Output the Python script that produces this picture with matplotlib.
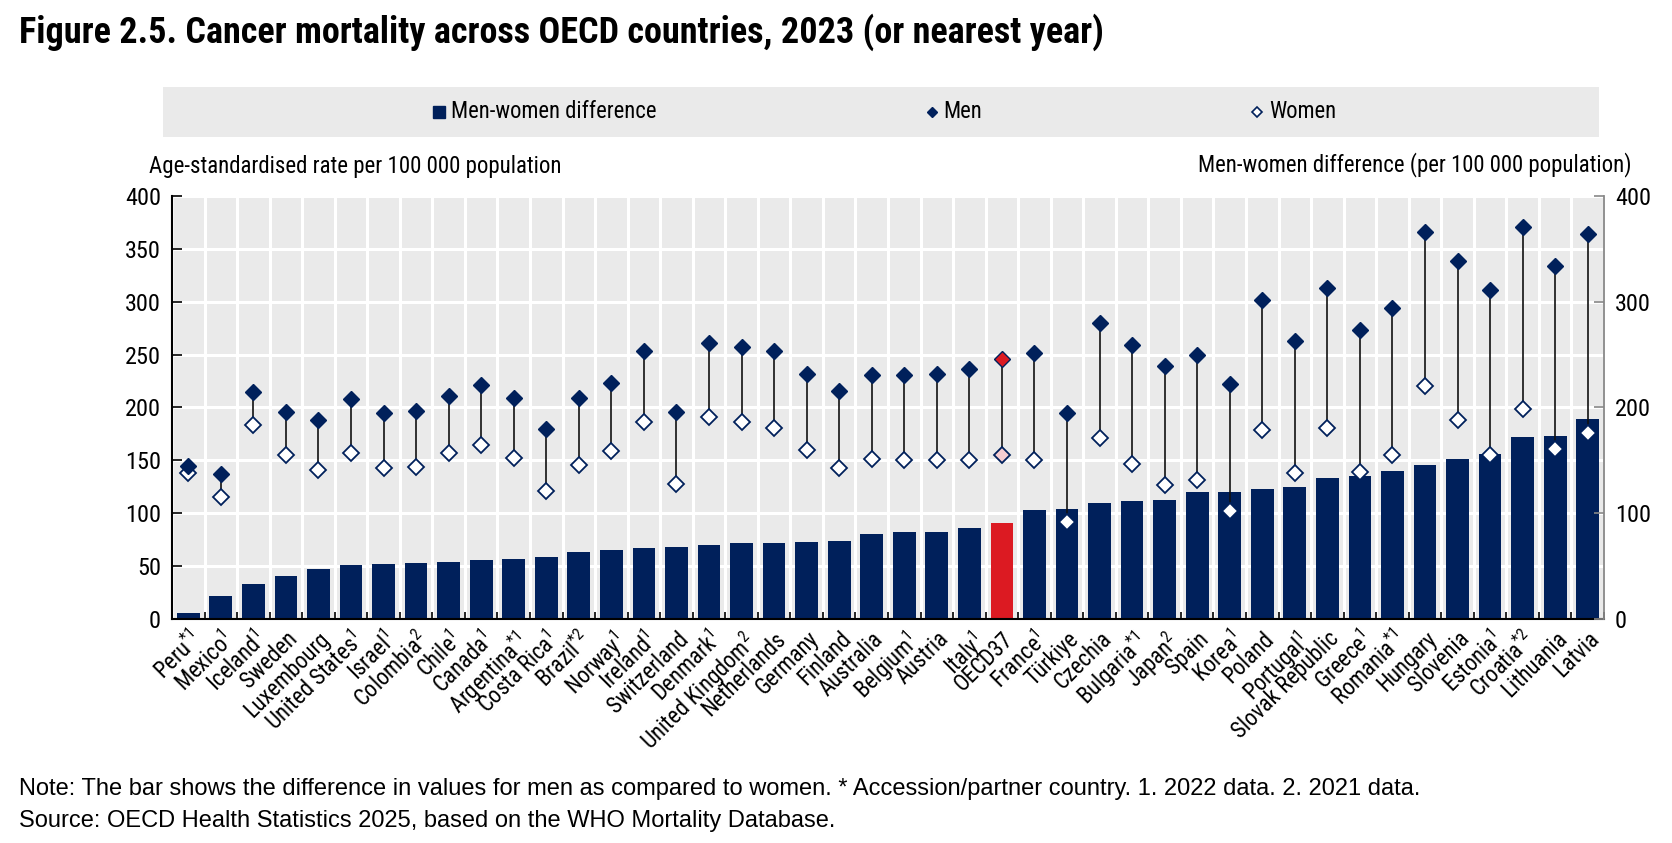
import matplotlib
matplotlib.use("Agg")
import matplotlib.pyplot as plt
from matplotlib import font_manager as fm
from matplotlib.lines import Line2D
from matplotlib.patches import Rectangle
import numpy as np

# ---------------- data ----------------
countries = ["Peru", "Mexico", "Iceland", "Sweden", "Luxembourg", "United States", "Israel",
             "Colombia", "Chile", "Canada", "Argentina", "Costa Rica", "Brazil", "Norway",
             "Ireland", "Switzerland", "Denmark", "United Kingdom", "Netherlands", "Germany",
             "Finland", "Australia", "Belgium", "Austria", "Italy", "OECD37", "France",
             "Türkiye", "Czechia", "Bulgaria", "Japan", "Spain", "Korea", "Poland", "Portugal",
             "Slovak Republic", "Greece", "Romania", "Hungary", "Slovenia", "Estonia",
             "Croatia", "Lithuania", "Latvia"]
notes = ["*1", "1", "1", "", "", "1", "1", "2", "1", "1", "*1", "1", "*2", "1",
         "1", "", "1", "2", "", "", "", "", "1", "", "1", "", "1",
         "", "", "*1", "2", "", "1", "", "1", "", "1", "*1", "", "", "1",
         "*2", "", ""]
men = [145, 137, 215, 196, 188, 208, 195, 197, 211, 221, 209, 180, 209, 223,
       253, 196, 261, 257, 253, 232, 216, 231, 231, 232, 236, 246, 252,
       195, 280, 259, 239, 250, 222, 302, 263, 313, 273, 294, 366, 339, 311,
       371, 334, 364]
women = [138, 115, 183, 155, 141, 157, 143, 144, 157, 165, 152, 121, 146, 159,
         186, 128, 191, 186, 181, 160, 143, 151, 150, 150, 150, 155, 150,
         92, 171, 147, 127, 131, 102, 179, 138, 181, 139, 155, 220, 188, 155,
         199, 161, 176]
difference = [6, 22, 33, 41, 47, 51, 52, 53, 54, 56, 57, 59, 63, 65,
              67, 68, 70, 72, 72, 73, 74, 80, 82, 82, 86, 91, 103,
              104, 110, 112, 113, 120, 120, 123, 125, 133, 135, 140, 146, 151, 156,
              172, 173, 189]
highlight = "OECD37"

title = "Figure 2.5. Cancer mortality across OECD countries, 2023 (or nearest year)"
left_label = "Age-standardised rate per 100 000 population"
right_label = "Men-women difference (per 100 000 population)"
legend_labels = ["Men-women difference", "Men", "Women"]
note_text = ("Note: The bar shows the difference in values for men as compared to women. "
             "* Accession/partner country. 1. 2022 data. 2. 2021 data.")
source_text = "Source: OECD Health Statistics 2025, based on the WHO Mortality Database."
yticks = [0, 50, 100, 150, 200, 250, 300, 350, 400]
yticks_right = [0, 100, 200, 300, 400]

# ---------------- fonts ----------------
names = {f.name for f in fm.fontManager.ttflist}
narrow = next((n for n in ["Liberation Sans Narrow", "Arial Narrow", "Roboto Condensed",
                           "Open Sans Condensed"] if n in names), "Liberation Sans")
regular = "Liberation Sans" if "Liberation Sans" in names else "DejaVu Sans"
plt.rcParams["font.family"] = [narrow, "DejaVu Sans"]
plt.rcParams["mathtext.fontset"] = "custom"
plt.rcParams["mathtext.rm"] = narrow
plt.rcParams["mathtext.it"] = narrow

NAVY = "#00205B"
RED = "#DC1A22"
PINK = "#F7CDD1"
BG = "#EAEAEA"

W, H = 1672, 843
fig = plt.figure(figsize=(W / 100, H / 100), dpi=100)
L, R, T, B = 172, 1604, 196, 619
ax = fig.add_axes([L / W, 1 - B / H, (R - L) / W, (B - T) / H])
ax.set_facecolor(BG)

x = np.arange(len(countries))
bar_colors = [RED if c == highlight else NAVY for c in countries]
ax.bar(x, difference, width=0.7, color=bar_colors, zorder=2)
ax.vlines(x, women, men, color="#111111", lw=1.2, zorder=3)
for i, c in enumerate(countries):
    hl = c == highlight
    ax.plot(x[i], men[i], marker="D", ms=8.5, mfc=RED if hl else NAVY, mec=NAVY,
            mew=1.0, ls="none", zorder=5)
    ax.plot(x[i], women[i], marker="D", ms=8.2, mfc=PINK if hl else "white", mec=NAVY,
            mew=1.3, ls="none", zorder=4)

ax.set_xlim(-0.5, len(countries) - 0.5)
ax.set_ylim(0, 400)
ax.set_yticks(yticks)
ax.set_xticks(x)
labels = [c + (r"$^{\mathrm{" + n + "}}$" if n else "") for c, n in zip(countries, notes)]
ax.set_xticklabels(labels, rotation=45, ha="right", va="top", rotation_mode="anchor",
                   fontsize=16.3)
ax.set_xticks(np.arange(-0.5, len(countries), 1.0), minor=True)
ax.tick_params(axis="x", which="major", length=0, pad=6)
ax.tick_params(axis="x", which="minor", length=5, width=1.2, direction="in", color="black")
ax.tick_params(axis="y", length=7, width=1.2, direction="in", labelsize=17.5, pad=8)
ax.grid(which="minor", axis="x", color="white", lw=2.2, zorder=1)
ax.grid(which="major", axis="y", color="white", lw=2.2, zorder=1)
ax.set_axisbelow(True)
for s in ["top", "right"]:
    ax.spines[s].set_visible(False)
ax.spines["left"].set_linewidth(1.5)
ax.spines["bottom"].set_linewidth(1.5)

ax2 = ax.twinx()
ax2.set_ylim(0, 400)
ax2.set_yticks(yticks_right)
ax2.tick_params(axis="y", length=7, width=1.2, direction="in", labelsize=17.5, pad=8,
                color="#888888")
for s in ["top", "left", "bottom"]:
    ax2.spines[s].set_visible(False)
ax2.spines["right"].set_color("#888888")
ax2.spines["right"].set_linewidth(1.3)

# ---------------- texts ----------------
fig.text(19 / W, 1 - 32 / H, title, fontsize=26, fontweight="bold", va="center", ha="left")
fig.text(149 / W, 1 - 167 / H, left_label, fontsize=16.5, va="center", ha="left")
fig.text(1631 / W, 1 - 165 / H, right_label, fontsize=16.4, va="center", ha="right")
fig.text(19 / W, 1 - 789 / H, note_text, fontsize=17, va="center", ha="left",
         family=regular)
fig.text(19 / W, 1 - 821 / H, source_text, fontsize=17, va="center", ha="left",
         family=regular)

# ---------------- legend ----------------
fig.add_artist(Rectangle((163 / W, 1 - 137 / H), (1599 - 163) / W, 50 / H,
                         transform=fig.transFigure, facecolor=BG, edgecolor="none"))
ly = 1 - 112 / H
fig.add_artist(Line2D([439 / W], [ly], marker="s", ms=8, mfc=NAVY, mec=NAVY, ls="none",
                      transform=fig.transFigure))
fig.text(451 / W, ly, legend_labels[0], fontsize=16.3, va="center", ha="left")
fig.add_artist(Line2D([932 / W], [ly], marker="D", ms=5.2, mfc=NAVY, mec=NAVY, ls="none",
                      transform=fig.transFigure))
fig.text(943 / W, ly, legend_labels[1], fontsize=16.3, va="center", ha="left")
fig.add_artist(Line2D([1257 / W], [ly], marker="D", ms=4.8, mfc="white", mec=NAVY,
                      mew=1.2, ls="none", transform=fig.transFigure))
fig.text(1269 / W, ly, legend_labels[2], fontsize=16.3, va="center", ha="left")

fig.savefig("out.png", dpi=100)
